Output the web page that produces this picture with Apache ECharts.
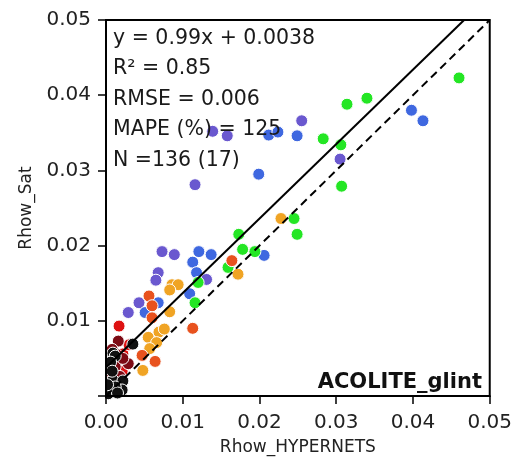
<!DOCTYPE html>
<html>
<head>
<meta charset="utf-8">
<script src="https://cdn.jsdelivr.net/npm/echarts@6/dist/echarts.min.js"></script>
<style>
  html, body { margin: 0; padding: 0; background: #fff; }
  #chart { width: 515px; height: 461px; }
</style>
</head>
<body>
<div id="chart"></div>
<script>
// Axis ticks (reflectance)
const xTicks = [0.00, 0.01, 0.02, 0.03, 0.04, 0.05];
const yTicks = [0.01, 0.02, 0.03, 0.04, 0.05];

// Match-ups [Rhow_HYPERNETS, Rhow_Sat], grouped by band colour
const ptsPurple = [
  [0.0139, 0.0352], [0.0158, 0.0346], [0.0255, 0.0366], [0.0116, 0.0281],
  [0.0305, 0.0315], [0.0073, 0.0192], [0.0089, 0.0188], [0.0068, 0.0164],
  [0.0065, 0.0154], [0.0131, 0.0155], [0.0043, 0.0124], [0.0029, 0.0111]
];
const ptsBlue = [
  [0.0212, 0.0347], [0.0224, 0.0351], [0.0249, 0.0346], [0.0199, 0.0295],
  [0.0398, 0.0380], [0.0413, 0.0366], [0.0206, 0.0187], [0.0121, 0.0192],
  [0.0137, 0.0188], [0.0113, 0.0178], [0.0118, 0.0164], [0.0109, 0.0136],
  [0.0068, 0.0124], [0.0051, 0.0111]
];
const ptsGreen = [
  [0.0460, 0.0423], [0.0314, 0.0388], [0.0340, 0.0396], [0.0283, 0.0342],
  [0.0306, 0.0334], [0.0307, 0.0279], [0.0245, 0.0236], [0.0249, 0.0215],
  [0.0173, 0.0215], [0.0178, 0.0195], [0.0194, 0.0192], [0.0159, 0.0171],
  [0.0120, 0.0151], [0.0116, 0.0124]
];
const ptsOrange = [
  [0.0228, 0.0236], [0.0172, 0.0162], [0.0086, 0.0148], [0.0094, 0.0148],
  [0.0083, 0.0141], [0.0083, 0.0112], [0.0069, 0.0085], [0.0055, 0.0078],
  [0.0066, 0.0071], [0.0057, 0.0063], [0.0048, 0.0034], [0.0076, 0.0089]
];
const ptsOrangeRed = [
  [0.0164, 0.0180], [0.0056, 0.0133], [0.0060, 0.0120], [0.0060, 0.0104],
  [0.0113, 0.0090], [0.0047, 0.0054], [0.0064, 0.0046]
];
const ptsRed = [
  [0.0017, 0.0093], [0.0022, 0.0056], [0.0021, 0.0033], [0.0010, 0.0045],
  [0.0030, 0.0068]
];
const ptsDarkRed = [
  [0.0016, 0.0073], [0.0013, 0.0056], [0.0029, 0.0043], [0.0012, 0.0039],
  [0.0005, 0.0030], [0.0008, 0.0062], [0.0022, 0.0050], [0.0004, 0.0018],
  [0.0018, 0.0026]
];
const ptsBlack = [
  [0.0035, 0.0069], [0.0009, 0.0057], [0.0012, 0.0053], [0.0009, 0.0021],
  [0.0022, 0.0020], [0.0005, 0.0007], [0.0021, 0.0008], [0.0003, 0.0003],
  [0.0012, 0.0012], [0.0006, 0.0045], [0.0002, 0.0015], [0.0015, 0.0004],
  [0.0008, 0.0033]
];

// Regression statistics
const fitSlope = 0.99;
const fitIntercept = 0.0038;
const statsLines = [
  'y = 0.99x + 0.0038',
  'R\u00B2 = 0.85',
  'RMSE = 0.006',
  'MAPE (%) = 125',
  'N =136 (17)'
];
const panelLabel = 'ACOLITE_glint';

const axMin = 0, axMax = 0.05;

const groups = [
  { data: ptsPurple, color: '#6a58cf' },
  { data: ptsBlue, color: '#3f68e0' },
  { data: ptsGreen, color: '#24e624' },
  { data: ptsOrange, color: '#f0a424' },
  { data: ptsOrangeRed, color: '#e8521e' },
  { data: ptsRed, color: '#de1212' },
  { data: ptsDarkRed, color: '#7c0a14' },
  { data: ptsBlack, color: '#111111' }
];

const FONT = '"DejaVu Sans", sans-serif';

const chart = echarts.init(document.getElementById('chart'), null, { renderer: 'canvas' });

const scatterSeries = groups.map(g => ({
  type: 'scatter',
  data: g.data,
  symbolSize: 12,
  clip: true,
  itemStyle: { color: g.color, borderColor: '#ffffff', borderWidth: 1, opacity: 1 },
  z: 2
}));

// fit line drawn until it leaves the plotting box
const fitEndX = (axMax - fitIntercept) / fitSlope;
const fitLine = {
  type: 'line',
  data: [[axMin, fitSlope * axMin + fitIntercept], [fitEndX, fitSlope * fitEndX + fitIntercept]],
  symbol: 'none',
  lineStyle: { color: '#000', width: 2 },
  z: 5
};
const oneToOne = {
  type: 'line',
  data: [[axMin, axMin], [axMax, axMax]],
  symbol: 'none',
  lineStyle: { color: '#000', width: 2, type: [8, 5] },
  z: 5
};

const statsGraphics = statsLines.map((t, i) => ({
  type: 'text',
  left: 113,
  top: 28 + i * 30.5,
  z: 20,
  style: { text: t, font: '20.5px ' + FONT, fill: '#1a1a1a' }
}));

// white masks trimming markers that spill past the left and bottom frame
const masks = [
  { type: 'rect', shape: { x: 60, y: 280, width: 45, height: 140 }, style: { fill: '#fff' }, z: 3 },
  { type: 'rect', shape: { x: 95, y: 404, width: 120, height: 12 }, style: { fill: '#fff' }, z: 3 }
];

chart.setOption({
  animation: false,
  backgroundColor: '#ffffff',
  grid: {
    left: 106, right: 25, top: 20, bottom: 58,
    show: true, borderColor: '#000', borderWidth: 2, backgroundColor: '#fff'
  },
  xAxis: {
    type: 'value', min: axMin, max: axMax, interval: 0.01, z: 10,
    name: 'Rhow_HYPERNETS', nameLocation: 'middle', nameGap: 43,
    nameTextStyle: { fontFamily: FONT, fontSize: 17, color: '#222' },
    axisLine: { show: true, lineStyle: { color: '#000', width: 2 } },
    axisTick: { show: true, length: 8, lineStyle: { color: '#000', width: 1.5 } },
    axisLabel: {
      margin: 17, fontFamily: FONT, fontSize: 20, color: '#222',
      formatter: v => v.toFixed(2)
    },
    splitLine: { show: false }
  },
  yAxis: {
    type: 'value', min: axMin, max: axMax, interval: 0.01, z: 10,
    name: 'Rhow_Sat', nameLocation: 'middle', nameGap: 68, nameRotate: 90,
    nameTextStyle: { fontFamily: FONT, fontSize: 17, color: '#222' },
    axisLine: { show: true, lineStyle: { color: '#000', width: 2 } },
    axisTick: { show: true, length: 8, lineStyle: { color: '#000', width: 1.5 } },
    axisLabel: {
      margin: 15, fontFamily: FONT, fontSize: 20, color: '#222',
      formatter: v => (yTicks.some(t => Math.abs(t - v) < 1e-9) ? v.toFixed(2) : '')
    },
    splitLine: { show: false }
  },
  graphic: statsGraphics.concat(masks, [{
    type: 'text',
    right: 33,
    top: 372,
    z: 20,
    style: { text: panelLabel, font: 'bold 21px ' + FONT, fill: '#111' }
  }]),
  series: scatterSeries.concat([fitLine, oneToOne])
});
</script>
</body>
</html>
